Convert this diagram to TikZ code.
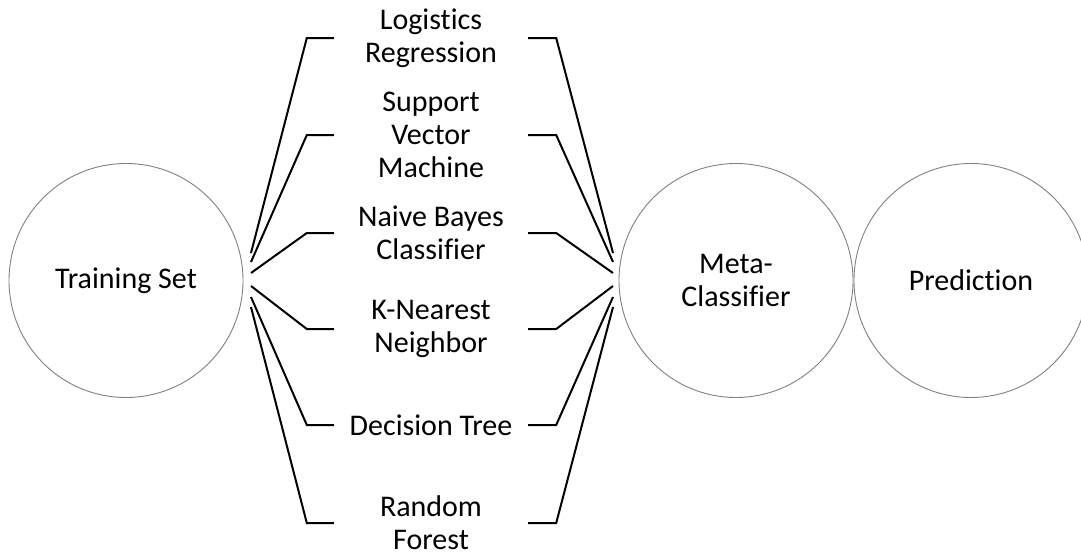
\documentclass[tikz,border=0pt]{standalone}
\usepackage{fontspec}
\setmainfont[Ligatures=NoCommon]{Carlito}
\begin{document}
\begin{tikzpicture}[x=1pt,y=-1pt,
  stage/.style={circle,draw=black!50,line width=0.9pt,minimum size=234pt,inner sep=0pt,align=center,font=\fontsize{30}{33}\selectfont},
  model/.style={minimum width=194pt,inner sep=0pt,align=center,font=\fontsize{30}{33}\selectfont},
  bracket/.style={line width=2pt,line join=miter}]
\useasboundingbox (0,0) rectangle (1081,554);
\fill[white] (0,0) rectangle (1081,554);

% stages
\node[stage] (ts) at (126,280.5) {Training Set};
\node[stage] (mc) at (736,280.5) {Meta-\\Classifier};
\node[stage] (pr) at (971,280.5) {Prediction};

% base models
\node[model] (lr)  at (431,38)  {Logistics\\Regression};
\node[model] (svm) at (431,135) {Support\\Vector\\Machine};
\node[model] (nb)  at (431,233) {Naive Bayes\\Classifier};
\node[model] (knn) at (431,329) {K-Nearest\\Neighbor};
\node[model] (dt)  at (431,425) {Decision Tree};
\node[model] (rf)  at (431,523) {Random\\Forest};

% fan points beside the circles
\coordinate (a1) at (251,253);
\coordinate (a2) at (251,262);
\coordinate (a3) at (251,273);
\coordinate (a4) at (251,286);
\coordinate (a5) at (251,297);
\coordinate (a6) at (251,307);
\coordinate (b1) at (613,253);
\coordinate (b2) at (613,262);
\coordinate (b3) at (613,273);
\coordinate (b4) at (613,286);
\coordinate (b5) at (613,297);
\coordinate (b6) at (613,307);

\foreach \m/\i in {lr/1,svm/2,nb/3,knn/4,dt/5,rf/6}{
  \draw[bracket] (a\i) -- ([xshift=-27pt]\m.west) -- (\m.west);
  \draw[bracket] (\m.east) -- ([xshift=28pt]\m.east) -- (b\i);
}
\end{tikzpicture}
\end{document}
